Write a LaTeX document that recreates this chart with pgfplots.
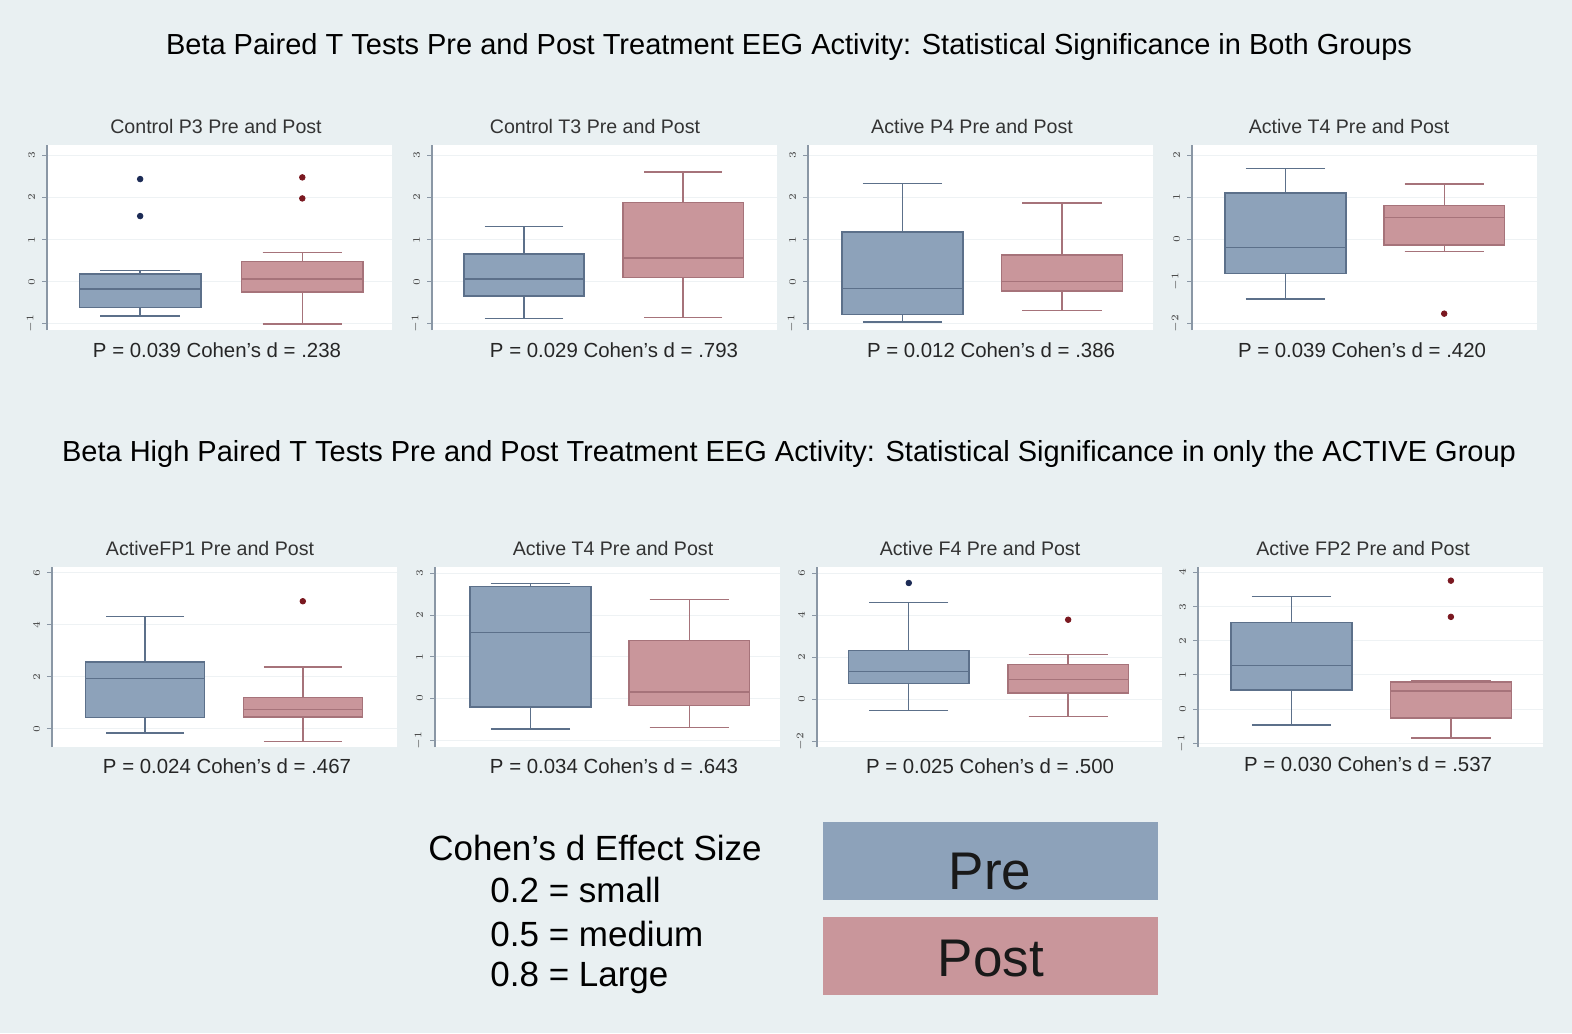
\documentclass[border=0pt]{standalone}
\usepackage{pgfplots}
\pgfplotsset{compat=1.18}
\usepgfplotslibrary{statistics}
\usepackage{fontspec}
\setmainfont{Liberation Sans}
\definecolor{bgc}{HTML}{E9F0F2}
\definecolor{prefill}{HTML}{8DA2BA}
\definecolor{preline}{HTML}{5C708A}
\definecolor{postfill}{HTML}{C9969B}
\definecolor{postline}{HTML}{A6737A}
\definecolor{preout}{HTML}{1C2B55}
\definecolor{postout}{HTML}{7A1820}
\definecolor{gridc}{HTML}{EEF2F4}
\definecolor{axisc}{HTML}{8A97A5}
\pgfplotsset{
  panel/.style={scale only axis, width=172.5pt, xmin=0, xmax=1,
    axis x line=none, axis y line*=left,
    axis background/.style={fill=white},
    ymajorgrids, grid style={gridc, line width=0.5pt},
    y axis line style={axisc, line width=0.6pt},
    ytick style={axisc, line width=0.5pt},
    tick align=outside, major tick length=2.5pt,
    yticklabel style={rotate=90, font=\fontsize{4}{4}\selectfont, text=black!75},
    anchor=south west},
  top/.style={panel, height=92.5pt},
  bot/.style={panel, height=90pt},
  pre/.style={boxplot/draw direction=y, fill=prefill, draw=preline, line width=0.7pt, solid, mark=none},
  post/.style={boxplot/draw direction=y, fill=postfill, draw=postline, line width=0.7pt, solid, mark=none},
  preo/.style={only marks, mark=*, mark size=1.4pt, draw=preout, fill=preout},
  posto/.style={only marks, mark=*, mark size=1.4pt, draw=postout, fill=postout},
}
\begin{document}
\begin{tikzpicture}
\fill[bgc] (0,0) rectangle (786pt,-516.5pt);
\path[use as bounding box] (0,0) rectangle (786pt,-516.5pt);

% titles
\node[font=\fontsize{14.5}{16}\selectfont] at (394.5pt,-23.5pt) {Beta Paired T Tests Pre and Post Treatment EEG Activity: Statistical Significance in Both Groups};
\node[font=\fontsize{14.5}{16}\selectfont] at (394.5pt,-227pt) {Beta High Paired T Tests Pre and Post Treatment EEG Activity: Statistical Significance in only the ACTIVE Group};

% subtitles and notes
\begin{scope}[every node/.style={font=\fontsize{9.8}{11}\selectfont, text=black!80}]
\node at (108pt,-63pt) {Control P3 Pre and Post};
\node at (297.5pt,-63pt) {Control T3 Pre and Post};
\node at (486pt,-63pt) {Active P4 Pre and Post};
\node at (674.5pt,-63pt) {Active T4 Pre and Post};
\node at (105pt,-274pt) {ActiveFP1 Pre and Post};
\node at (306.5pt,-274pt) {Active T4 Pre and Post};
\node at (490pt,-274pt) {Active F4 Pre and Post};
\node at (681.5pt,-274pt) {Active FP2 Pre and Post};
\end{scope}
\begin{scope}[every node/.style={font=\fontsize{10.2}{11}\selectfont, text=black!85}]
\node at (108.5pt,-175pt) {P = 0.039 Cohen's d = .238};
\node at (307pt,-175pt) {P = 0.029 Cohen's d = .793};
\node at (495.5pt,-175pt) {P = 0.012 Cohen's d = .386};
\node at (681pt,-175pt) {P = 0.039 Cohen's d = .420};
\node at (113.5pt,-383pt) {P = 0.024 Cohen's d = .467};
\node at (307pt,-383pt) {P = 0.034 Cohen's d = .643};
\node at (495pt,-383pt) {P = 0.025 Cohen's d = .500};
\node at (684pt,-382pt) {P = 0.030 Cohen's d = .537};
\end{scope}

% legend block
\begin{scope}[every node/.style={font=\fontsize{17.5}{19}\selectfont, inner sep=0pt}]
\node[anchor=base] at (297.5pt,-430pt) {Cohen's d Effect Size};
\node[anchor=base west] at (245pt,-451.4pt) {0.2 = small};
\node[anchor=base west] at (245pt,-473pt) {0.5 = medium};
\node[anchor=base west] at (245pt,-493.4pt) {0.8 = Large};
\end{scope}
\fill[prefill] (411.5pt,-411pt) rectangle (579pt,-450pt);
\fill[postfill] (411.5pt,-458.5pt) rectangle (579pt,-497.5pt);
\node[font=\fontsize{26.5}{28}\selectfont, text=black!90] at (495pt,-436pt) {Pre};
\node[font=\fontsize{26.5}{28}\selectfont, text=black!90] at (495.5pt,-479.5pt) {Post};

% ---------- top row ----------
\begin{axis}[top, at={(23.5pt,-165pt)}, ymin=-1.15, ymax=3.25, ytick={-1,0,1,2,3}]
\addplot+[pre, boxplot prepared={draw position=0.27, box extend=0.353, whisker extend=0.23,
  lower whisker=-0.82, lower quartile=-0.62, median=-0.17, upper quartile=0.18, upper whisker=0.26}] coordinates {};
\addplot+[post, boxplot prepared={draw position=0.74, box extend=0.353, whisker extend=0.23,
  lower whisker=-1.01, lower quartile=-0.25, median=0.06, upper quartile=0.48, upper whisker=0.69}] coordinates {};
\addplot[preo] coordinates {(0.27,2.44) (0.27,1.56)};
\addplot[posto] coordinates {(0.74,2.48) (0.74,1.98)};
\end{axis}

\begin{axis}[top, at={(216pt,-165pt)}, ymin=-1.15, ymax=3.25, ytick={-1,0,1,2,3}]
\addplot+[pre, boxplot prepared={draw position=0.267, box extend=0.348, whisker extend=0.227,
  lower whisker=-0.88, lower quartile=-0.34, median=0.06, upper quartile=0.66, upper whisker=1.31}] coordinates {};
\addplot+[post, boxplot prepared={draw position=0.728, box extend=0.348, whisker extend=0.227,
  lower whisker=-0.85, lower quartile=0.10, median=0.56, upper quartile=1.88, upper whisker=2.61}] coordinates {};
\end{axis}

\begin{axis}[top, at={(404pt,-165pt)}, ymin=-1.15, ymax=3.25, ytick={-1,0,1,2,3}]
\addplot+[pre, boxplot prepared={draw position=0.274, box extend=0.35, whisker extend=0.23,
  lower whisker=-0.96, lower quartile=-0.78, median=-0.16, upper quartile=1.18, upper whisker=2.34}] coordinates {};
\addplot+[post, boxplot prepared={draw position=0.736, box extend=0.35, whisker extend=0.23,
  lower whisker=-0.69, lower quartile=-0.22, median=0.0, upper quartile=0.63, upper whisker=1.87}] coordinates {};
\end{axis}

\begin{axis}[top, at={(596pt,-165pt)}, ymin=-2.16, ymax=2.25, ytick={-2,-1,0,1,2}]
\addplot+[pre, boxplot prepared={draw position=0.271, box extend=0.35, whisker extend=0.23,
  lower whisker=-1.42, lower quartile=-0.82, median=-0.20, upper quartile=1.11, upper whisker=1.69}] coordinates {};
\addplot+[post, boxplot prepared={draw position=0.731, box extend=0.35, whisker extend=0.23,
  lower whisker=-0.29, lower quartile=-0.13, median=0.52, upper quartile=0.81, upper whisker=1.32}] coordinates {};
\addplot[posto] coordinates {(0.731,-1.77)};
\end{axis}

% ---------- bottom row ----------
\begin{axis}[bot, at={(26pt,-373.5pt)}, ymin=-0.71, ymax=6.23, ytick={0,2,4,6}]
\addplot+[pre, boxplot prepared={draw position=0.27, box extend=0.345, whisker extend=0.226,
  lower whisker=-0.17, lower quartile=0.42, median=1.92, upper quartile=2.56, upper whisker=4.33}] coordinates {};
\addplot+[post, boxplot prepared={draw position=0.727, box extend=0.345, whisker extend=0.226,
  lower whisker=-0.50, lower quartile=0.44, median=0.73, upper quartile=1.21, upper whisker=2.37}] coordinates {};
\addplot[posto] coordinates {(0.727,4.91)};
\end{axis}

\begin{axis}[bot, at={(217.5pt,-373.5pt)}, ymin=-1.16, ymax=3.15, ytick={-1,0,1,2,3}]
\addplot+[pre, boxplot prepared={draw position=0.277, box extend=0.35, whisker extend=0.23,
  lower whisker=-0.73, lower quartile=-0.20, median=1.58, upper quartile=2.69, upper whisker=2.76}] coordinates {};
\addplot+[post, boxplot prepared={draw position=0.737, box extend=0.35, whisker extend=0.23,
  lower whisker=-0.69, lower quartile=-0.16, median=0.16, upper quartile=1.39, upper whisker=2.37}] coordinates {};
\end{axis}

\begin{axis}[bot, at={(408.5pt,-373.5pt)}, ymin=-2.27, ymax=6.3, ytick={-2,0,2,4,6}]
\addplot+[pre, boxplot prepared={draw position=0.266, box extend=0.35, whisker extend=0.23,
  lower whisker=-0.54, lower quartile=0.75, median=1.32, upper quartile=2.33, upper whisker=4.62}] coordinates {};
\addplot+[post, boxplot prepared={draw position=0.728, box extend=0.35, whisker extend=0.23,
  lower whisker=-0.81, lower quartile=0.30, median=0.95, upper quartile=1.67, upper whisker=2.14}] coordinates {};
\addplot[preo] coordinates {(0.266,5.54)};
\addplot[posto] coordinates {(0.728,3.79)};
\end{axis}

\begin{axis}[bot, at={(599pt,-373.5pt)}, ymin=-1.11, ymax=4.16, ytick={-1,0,1,2,3,4}]
\addplot+[pre, boxplot prepared={draw position=0.271, box extend=0.35, whisker extend=0.23,
  lower whisker=-0.47, lower quartile=0.56, median=1.27, upper quartile=2.54, upper whisker=3.30}] coordinates {};
\addplot+[post, boxplot prepared={draw position=0.733, box extend=0.35, whisker extend=0.23,
  lower whisker=-0.85, lower quartile=-0.26, median=0.53, upper quartile=0.79, upper whisker=0.84}] coordinates {};
\addplot[posto] coordinates {(0.733,3.76) (0.733,2.70)};
\end{axis}
\end{tikzpicture}
\end{document}
